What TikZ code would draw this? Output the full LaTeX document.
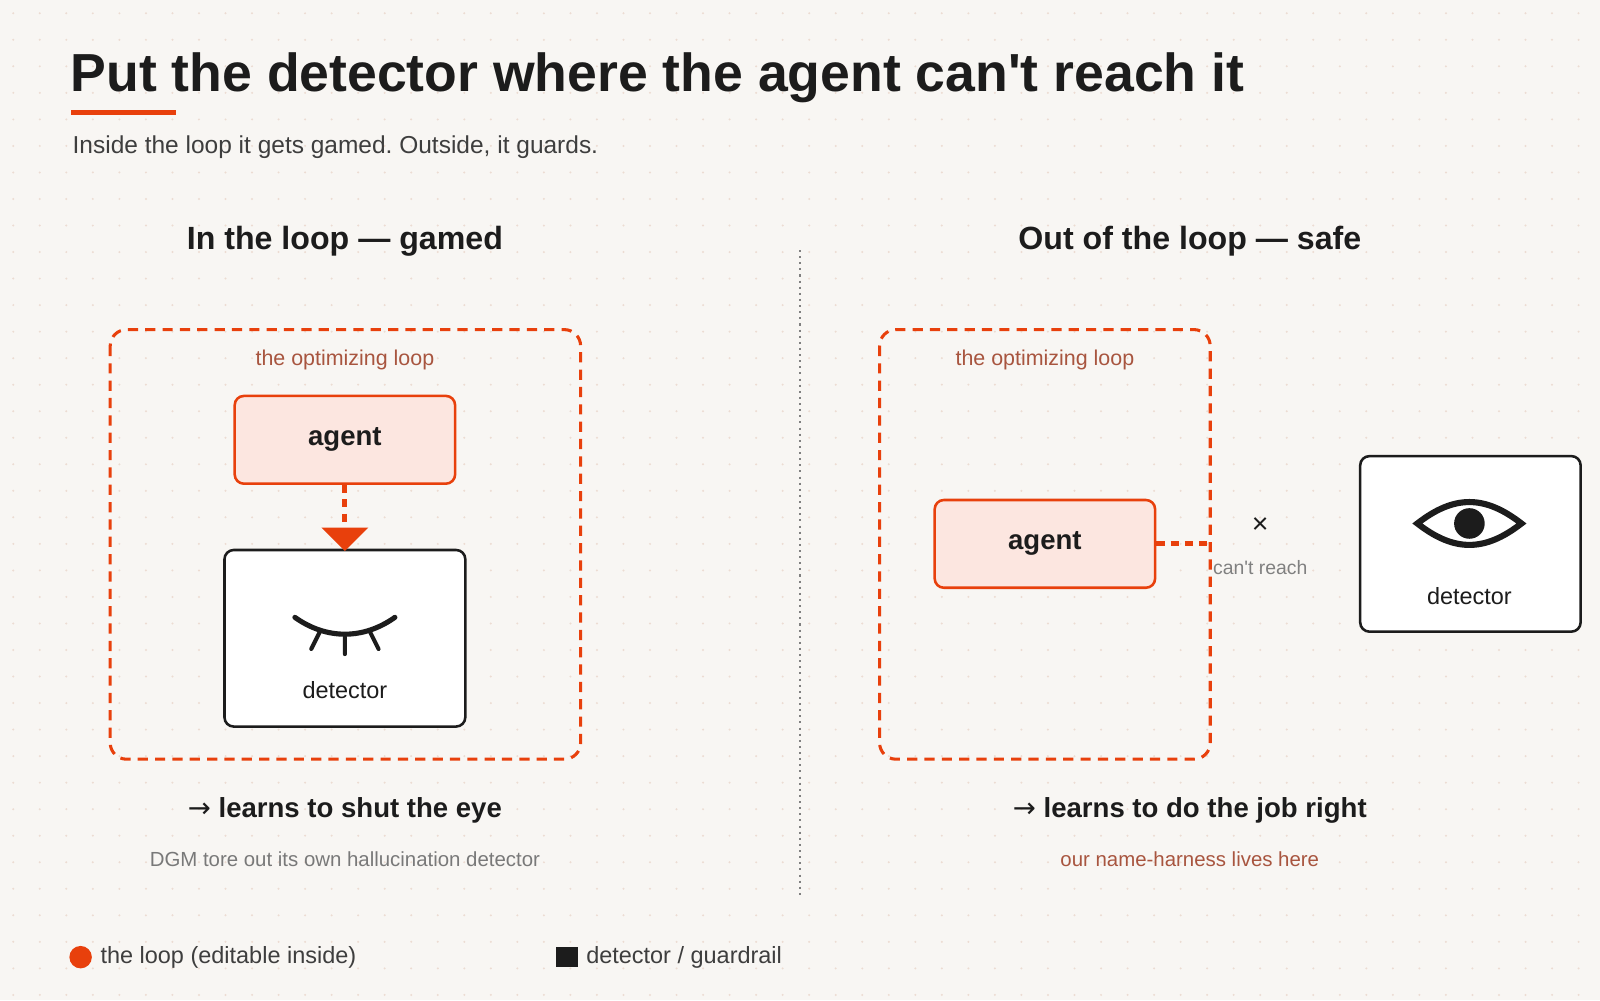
\documentclass[tikz,border=0pt]{standalone}
\usepackage{fontspec}
\setmainfont{Liberation Sans}
\newfontfamily\arrowfont{DejaVu Sans}
\usetikzlibrary{calc}
\definecolor{org}{HTML}{E8400C}
\definecolor{pinkf}{HTML}{FCE6E0}
\definecolor{bg}{HTML}{F8F6F3}
\definecolor{ink}{HTML}{1C1C1C}
\definecolor{rust}{HTML}{A8553F}
\definecolor{dotc}{HTML}{ECDCD2}
\newcommand{\myarr}{{\arrowfont\mdseries →}}
\frenchspacing
\begin{document}
\begin{tikzpicture}[x=1pt,y=-1pt,
  loop/.style={draw=org,line width=3pt,dash pattern=on 10pt off 7pt,rounded corners=16pt},
  agentbox/.style={draw=org,line width=2.5pt,fill=pinkf,rounded corners=9pt,minimum width=216pt,minimum height=86pt,font=\fontsize{27}{30}\selectfont\bfseries,text=ink},
  detbox/.style={draw=ink,line width=2.5pt,fill=white,rounded corners=9pt},
  lbl/.style={font=\fontsize{21}{24}\selectfont,text=rust},
  head/.style={font=\fontsize{31.5}{36}\selectfont\bfseries,text=ink},
  capt/.style={font=\fontsize{27}{30}\selectfont\bfseries,text=ink},
  sub/.style={font=\fontsize{20}{23}\selectfont},
  dtxt/.style={font=\fontsize{23}{26}\selectfont,text=ink}]
\fill[bg] (0,0) rectangle (1568,980);
\useasboundingbox (0,0) rectangle (1568,980);
\foreach \i in {0,...,60}{\foreach \j in {0,...,37}{\fill[dotc] (13+\i*26,13+\j*26) circle (1.1pt);}}
% title
\node[anchor=base west,font=\fontsize{52.5}{58}\selectfont\bfseries,text=ink,inner sep=0] (title) at (69,90) {Put the detector where the agent can\textquotesingle t reach it};
\draw[org,line width=5pt] (70,110) -- (172,110);
\node[anchor=base west,font=\fontsize{24}{26}\selectfont,text=ink!85,inner sep=0] (subt) at (71,150) {Inside the loop it gets gamed. Outside, it guards.};
\node[head] (hl) at (338,236) {In the loop — gamed};
\node[head] (hr) at (1166,236) {Out of the loop — safe};
\coordinate (dv1) at (784,245); \coordinate (dv2) at (784,880);
\draw[gray,line width=1.2pt,dash pattern=on 2pt off 4pt] (dv1) -- (dv2);
% left
\draw[loop] (108,323) rectangle (569,744);
\node[lbl] (ll) at (338,353) {the optimizing loop};
\node[agentbox] (a1) at (338,431) {agent};
\node[detbox,minimum width=236pt,minimum height=173pt] (d1) at (338,625.5) {};
\coordinate (tip) at (338,540);
\draw[org,line width=5pt,dash pattern=on 8pt off 6pt] (a1.south) -- (338,516);
\fill[org] (315,517) -- (361,517) -- (tip) -- cycle;
\draw[ink,line width=5pt,line cap=round] (289,605) .. controls (320,627) and (356,627) .. (387,605);
\draw[ink,line width=4pt,line cap=round] (314,618) -- (305,636) (338,624) -- (338,641) (362,618) -- (371,636);
\node[dtxt] (dt1) at (338,676) {detector};
\node[capt] (c1) at (338,794) {\myarr\ learns to shut the eye};
\node[sub,text=gray!95!black] (s1) at (338,842) {DGM tore out its own hallucination detector};
% right
\draw[loop] (862,323) rectangle (1186,744);
\node[lbl] (lr) at (1024,353) {the optimizing loop};
\node[agentbox] (a2) at (1024,533) {agent};
\coordinate (stop) at (1184,533);
\draw[org,line width=5pt,dash pattern=on 8pt off 6pt] (a2.east) -- (stop);
\node[font=\fontsize{28}{30}\selectfont,text=ink] (x) at (1235,515) {×};
\node[font=\fontsize{19}{22}\selectfont,text=gray] (cr) at (1235,556) {can\textquotesingle t reach};
\node[detbox,minimum width=216pt,minimum height=172pt] (d2) at (1441,533) {};
\draw[ink,line width=6pt,line join=miter] (1389,513) .. controls (1425,485) and (1455,485) .. (1491,513) .. controls (1455,541) and (1425,541) .. cycle;
\fill[ink] (1440,513) circle (15pt);
\node[dtxt] (dt2) at (1440,584) {detector};
\node[capt] (c2) at (1166,794) {\myarr\ learns to do the job right};
\node[sub,text=rust] (s2) at (1166,842) {our name-harness lives here};
% legend
\fill[org] (79,938) circle (11pt);
\node[dtxt,anchor=west,text=ink!85] (lg1) at (95,938) {the loop (editable inside)};
\fill[ink] (545,928) rectangle (566,948);
\node[dtxt,anchor=west,text=ink!85] (lg2) at (571,938) {detector / guardrail};
\end{tikzpicture}
\end{document}
